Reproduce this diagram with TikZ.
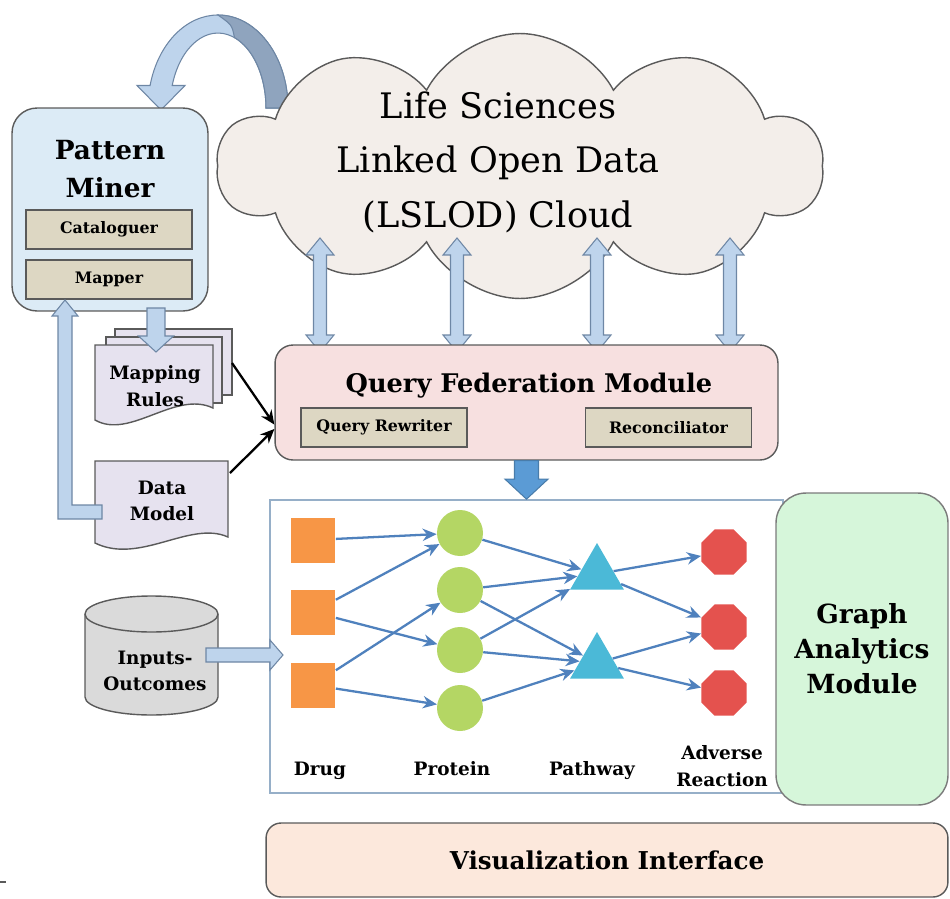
\documentclass[tikz,border=0pt]{standalone}
\usepackage{fontspec}
\setmainfont{DejaVu Serif}
\usetikzlibrary{shapes, arrows.meta, positioning, calc}

\definecolor{minerblue}{RGB}{220, 235, 246}
\definecolor{boxtan}{RGB}{221, 215, 195}
\definecolor{cloudbeige}{RGB}{243, 238, 234}
\definecolor{arrowblue}{RGB}{190, 212, 236}
\definecolor{arrowdark}{RGB}{143, 164, 190}
\definecolor{arrowedge}{RGB}{110, 135, 165}
\definecolor{fedpink}{RGB}{247, 224, 224}
\definecolor{analyticgreen}{RGB}{214, 246, 218}
\definecolor{vizpeach}{RGB}{252, 232, 220}
\definecolor{doclilac}{RGB}{230, 226, 239}
\definecolor{cylgray}{RGB}{218, 218, 218}
\definecolor{drugorange}{RGB}{247, 150, 70}
\definecolor{protgreen}{RGB}{180, 214, 100}
\definecolor{pathcyan}{RGB}{75, 185, 215}
\definecolor{adversered}{RGB}{228, 82, 78}
\definecolor{edgeblue}{RGB}{79, 129, 189}
\definecolor{downblue}{RGB}{91, 155, 213}
\definecolor{graphframe}{RGB}{150, 175, 200}
\definecolor{outline}{RGB}{90, 90, 90}

% block arrows: style, from, to, half shaft, half head, head length
\newcommand{\sblock}[6]{%
  \coordinate (blk-h) at ($(#3)!#6!(#2)$);
  \filldraw[#1] ($(#2)!#4!90:(#3)$) -- ($(blk-h)!#4!90:(#3)$) -- ($(blk-h)!#5!90:(#3)$) -- (#3)
    -- ($(blk-h)!#5!-90:(#3)$) -- ($(blk-h)!#4!-90:(#3)$) -- ($(#2)!#4!-90:(#3)$) -- cycle;
}
\newcommand{\dblock}[6]{%
  \coordinate (blk-a) at ($(#2)!#6!(#3)$);
  \coordinate (blk-b) at ($(#3)!#6!(#2)$);
  \filldraw[#1] (#2) -- ($(blk-a)!#5!90:(#3)$) -- ($(blk-a)!#4!90:(#3)$) -- ($(blk-b)!#4!90:(#3)$)
    -- ($(blk-b)!#5!90:(#3)$) -- (#3) -- ($(blk-b)!#5!-90:(#3)$) -- ($(blk-b)!#4!-90:(#3)$)
    -- ($(blk-a)!#4!-90:(#3)$) -- ($(blk-a)!#5!-90:(#3)$) -- cycle;
}

\begin{document}
\begin{tikzpicture}[x=0.02cm, y=-0.02cm,
  subbox/.style={draw=outline, fill=boxtan, line width=0.8pt, inner sep=0, minimum width=3.32cm, minimum height=0.78cm, font=\fontsize{9}{11}\selectfont\bfseries},
  drug/.style={rectangle, fill=drugorange, minimum size=0.9cm, inner sep=0},
  protein/.style={circle, fill=protgreen, minimum size=0.92cm, inner sep=0},
  pathway/.style={regular polygon, regular polygon sides=3, fill=pathcyan, minimum size=1.24cm, inner sep=0},
  adverse/.style={regular polygon, regular polygon sides=8, fill=adversered, minimum size=0.98cm, inner sep=0},
  gedge/.style={-{Stealth[length=8pt, width=7pt]}, edgeblue, line width=1.3pt},
  lbl/.style={font=\fontsize{10.5}{15}\selectfont\bfseries, align=center},
  blockup/.style={fill=arrowblue, draw=arrowedge, line width=0.6pt},
  docpage/.style={fill=doclilac, draw=outline, line width=0.8pt}]

  \useasboundingbox (0,0) rectangle (950,899);

  % Curved feedback arrow
  \filldraw[fill=arrowblue, draw=arrowedge, line width=0.6pt] (288,108) arc[start angle=0, end angle=-166, x radius=70, y radius=93]
    -- (137,85.5) -- (161,110) -- (185,85.5) -- (172.2,85.5) arc[start angle=-162.5, end angle=0, x radius=48, y radius=75] -- cycle;
  \filldraw[fill=arrowdark, draw=arrowedge, line width=0.6pt] (218,15) arc[start angle=-90, end angle=0, x radius=70, y radius=93]
    -- (266,108) arc[start angle=0, end angle=-70, x radius=48, y radius=75] .. controls (232,25) .. (218,15) -- cycle;

  % LSLOD cloud
  \node[cloud, cloud puffs=10, cloud puff arc=125, cloud ignores aspect, draw=outline, fill=cloudbeige, line width=0.8pt,
    minimum width=12.1cm, minimum height=5.3cm] (lslod) at (520,166) {};
  \node[font=\fontsize{20}{31}\selectfont, align=center] (lslodtext) at (498,162) {Life Sciences\\Linked Open Data\\(LSLOD) Cloud};

  % Cloud <-> federation arrows
  \foreach \x [count=\i] in {320,457,597,730} {
    \coordinate (lo\i) at (\x,238);
    \coordinate (fq\i) at (\x,352);
    \dblock{blockup}{lo\i}{fq\i}{0.13cm}{0.28cm}{0.34cm}
  }

  % Pattern Miner
  \node[draw=outline, fill=minerblue, rounded corners=0.5cm, line width=0.8pt, minimum width=3.92cm, minimum height=4.06cm] (pminer) at (110,209.5) {};
  \node[font=\fontsize{15}{21.5}\selectfont\bfseries, align=center] (pmtitle) at (110,169) {Pattern\\Miner};
  \node[subbox] (catalog) at (109,229.5) {Cataloguer};
  \node[subbox] (mapper) at (109,279.5) {Mapper};

  % Mapping rules and data model documents
  \filldraw[docpage] (115,329) rectangle (232,395);
  \filldraw[docpage] (106,337) rectangle (222,403);
  \filldraw[docpage] (95,345) -- (213,345) -- (213,408) .. controls (175,390) and (130,440) .. (95,420) -- cycle;
  \filldraw[docpage] (95,461) -- (228,461) -- (228,537) .. controls (190,520) and (140,565) .. (95,543) -- cycle;
  \node[lbl] (mrules) at (155,386) {Mapping\\Rules};
  \node[lbl] (dmodel) at (162,501) {Data\\Model};

  \coordinate (mapout) at (156,308);
  \coordinate (mapin) at (156,352);
  \sblock{blockup}{mapout}{mapin}{0.18cm}{0.35cm}{0.32cm}
  \filldraw[blockup] (102,505) -- (72,505) -- (72,316) -- (78,316) -- (65,300) -- (52,316) -- (58,316) -- (58,519) -- (102,519) -- cycle;

  % Query Federation Module
  \node[draw=outline, fill=fedpink, rounded corners=0.36cm, line width=0.8pt, minimum width=10.06cm, minimum height=2.3cm] (qfm) at (526.5,402.5) {};
  \node[font=\fontsize{14.6}{17}\selectfont\bfseries] (qfmtitle) at (529,386) {Query Federation Module};
  \node[subbox] (rewriter) at (384,427.5) {Query Rewriter};
  \node[subbox] (reconcil) at (668.5,427.5) {Reconciliator};

  \coordinate (mrback) at (232,363);
  \coordinate (dmright) at (230,473);
  \draw[-{Stealth[length=8pt, width=7pt]}, line width=1.3pt] (mrback) -- (qfm.185);
  \draw[-{Stealth[length=8pt, width=7pt]}, line width=1.3pt] (dmright) -- (qfm.186.5);

  % Graph panel
  \node[draw=graphframe, fill=white, line width=1pt, minimum width=10.26cm, minimum height=5.86cm] (graphbox) at (526.5,646.5) {};
  \sblock{fill=downblue, draw=downblue!80!black, line width=0.6pt}{qfm.south}{graphbox.north}{0.24cm}{0.43cm}{0.4cm}

  \node[drug] (d1) at (313,540) {};
  \node[drug] (d2) at (313,612) {};
  \node[drug] (d3) at (313,685) {};
  \node[protein] (p1) at (460,533) {};
  \node[protein] (p2) at (460,590) {};
  \node[protein] (p3) at (460,650) {};
  \node[protein] (p4) at (460,708) {};
  \node[pathway] (w1) at (597,574) {};
  \node[pathway] (w2) at (597,663) {};
  \node[adverse] (a1) at (724,552) {};
  \node[adverse] (a2) at (724,627) {};
  \node[adverse] (a3) at (724,693) {};

  \draw[gedge] (d1) -- (p1);
  \draw[gedge] (d2) -- (p1);
  \draw[gedge] (d2) -- (p3);
  \draw[gedge] (d3) -- (p2);
  \draw[gedge] (d3) -- (p4);
  \draw[gedge] (p1) -- (w1);
  \draw[gedge] (p2) -- (w1);
  \draw[gedge] (p2) -- (w2);
  \draw[gedge] (p3) -- (w1);
  \draw[gedge] (p3) -- (w2);
  \draw[gedge] (p4) -- (w2);
  \draw[gedge] (w1) -- (a1);
  \draw[gedge] (w1) -- (a2);
  \draw[gedge] (w2) -- (a2);
  \draw[gedge] (w2) -- (a3);

  \node[lbl, anchor=base] (druglbl) at (320,775) {Drug};
  \node[lbl, anchor=base] (protlbl) at (452,775) {Protein};
  \node[lbl, anchor=base] (pathlbl) at (592,775) {Pathway};
  \node[lbl] (advlbl) at (722,766) {Adverse\\Reaction};

  % Graph Analytics Module
  \node[draw=outline!80, fill=analyticgreen, rounded corners=0.6cm, line width=0.8pt, minimum width=3.44cm, minimum height=6.24cm,
    font=\fontsize{15}{20}\selectfont\bfseries, align=center] (gam) at (862,649) {Graph\\Analytics\\Module};

  % Inputs-Outcomes store
  \filldraw[fill=cylgray, draw=outline, line width=0.8pt] (85,614) -- (85,697) arc[start angle=180, end angle=0, x radius=66.5, y radius=18]
    -- (218,614) arc[start angle=0, end angle=-180, x radius=66.5, y radius=18] -- cycle;
  \draw[outline, line width=0.8pt] (85,614) arc[start angle=180, end angle=0, x radius=66.5, y radius=18];
  \node[lbl] (inout) at (155,671) {Inputs-\\Outcomes};
  \coordinate (ioout) at (206,655);
  \coordinate (ioin) at (283,655);
  \sblock{blockup}{ioout}{ioin}{0.14cm}{0.3cm}{0.26cm}

  % Visualization Interface
  \node[draw=outline, fill=vizpeach, rounded corners=0.3cm, line width=0.8pt, minimum width=13.64cm, minimum height=1.48cm,
    font=\fontsize{14}{17}\selectfont\bfseries] (viz) at (607,860) {Visualization Interface};

  \draw[outline, line width=1.2pt] (0,882) -- (6,882);
\end{tikzpicture}
\end{document}
